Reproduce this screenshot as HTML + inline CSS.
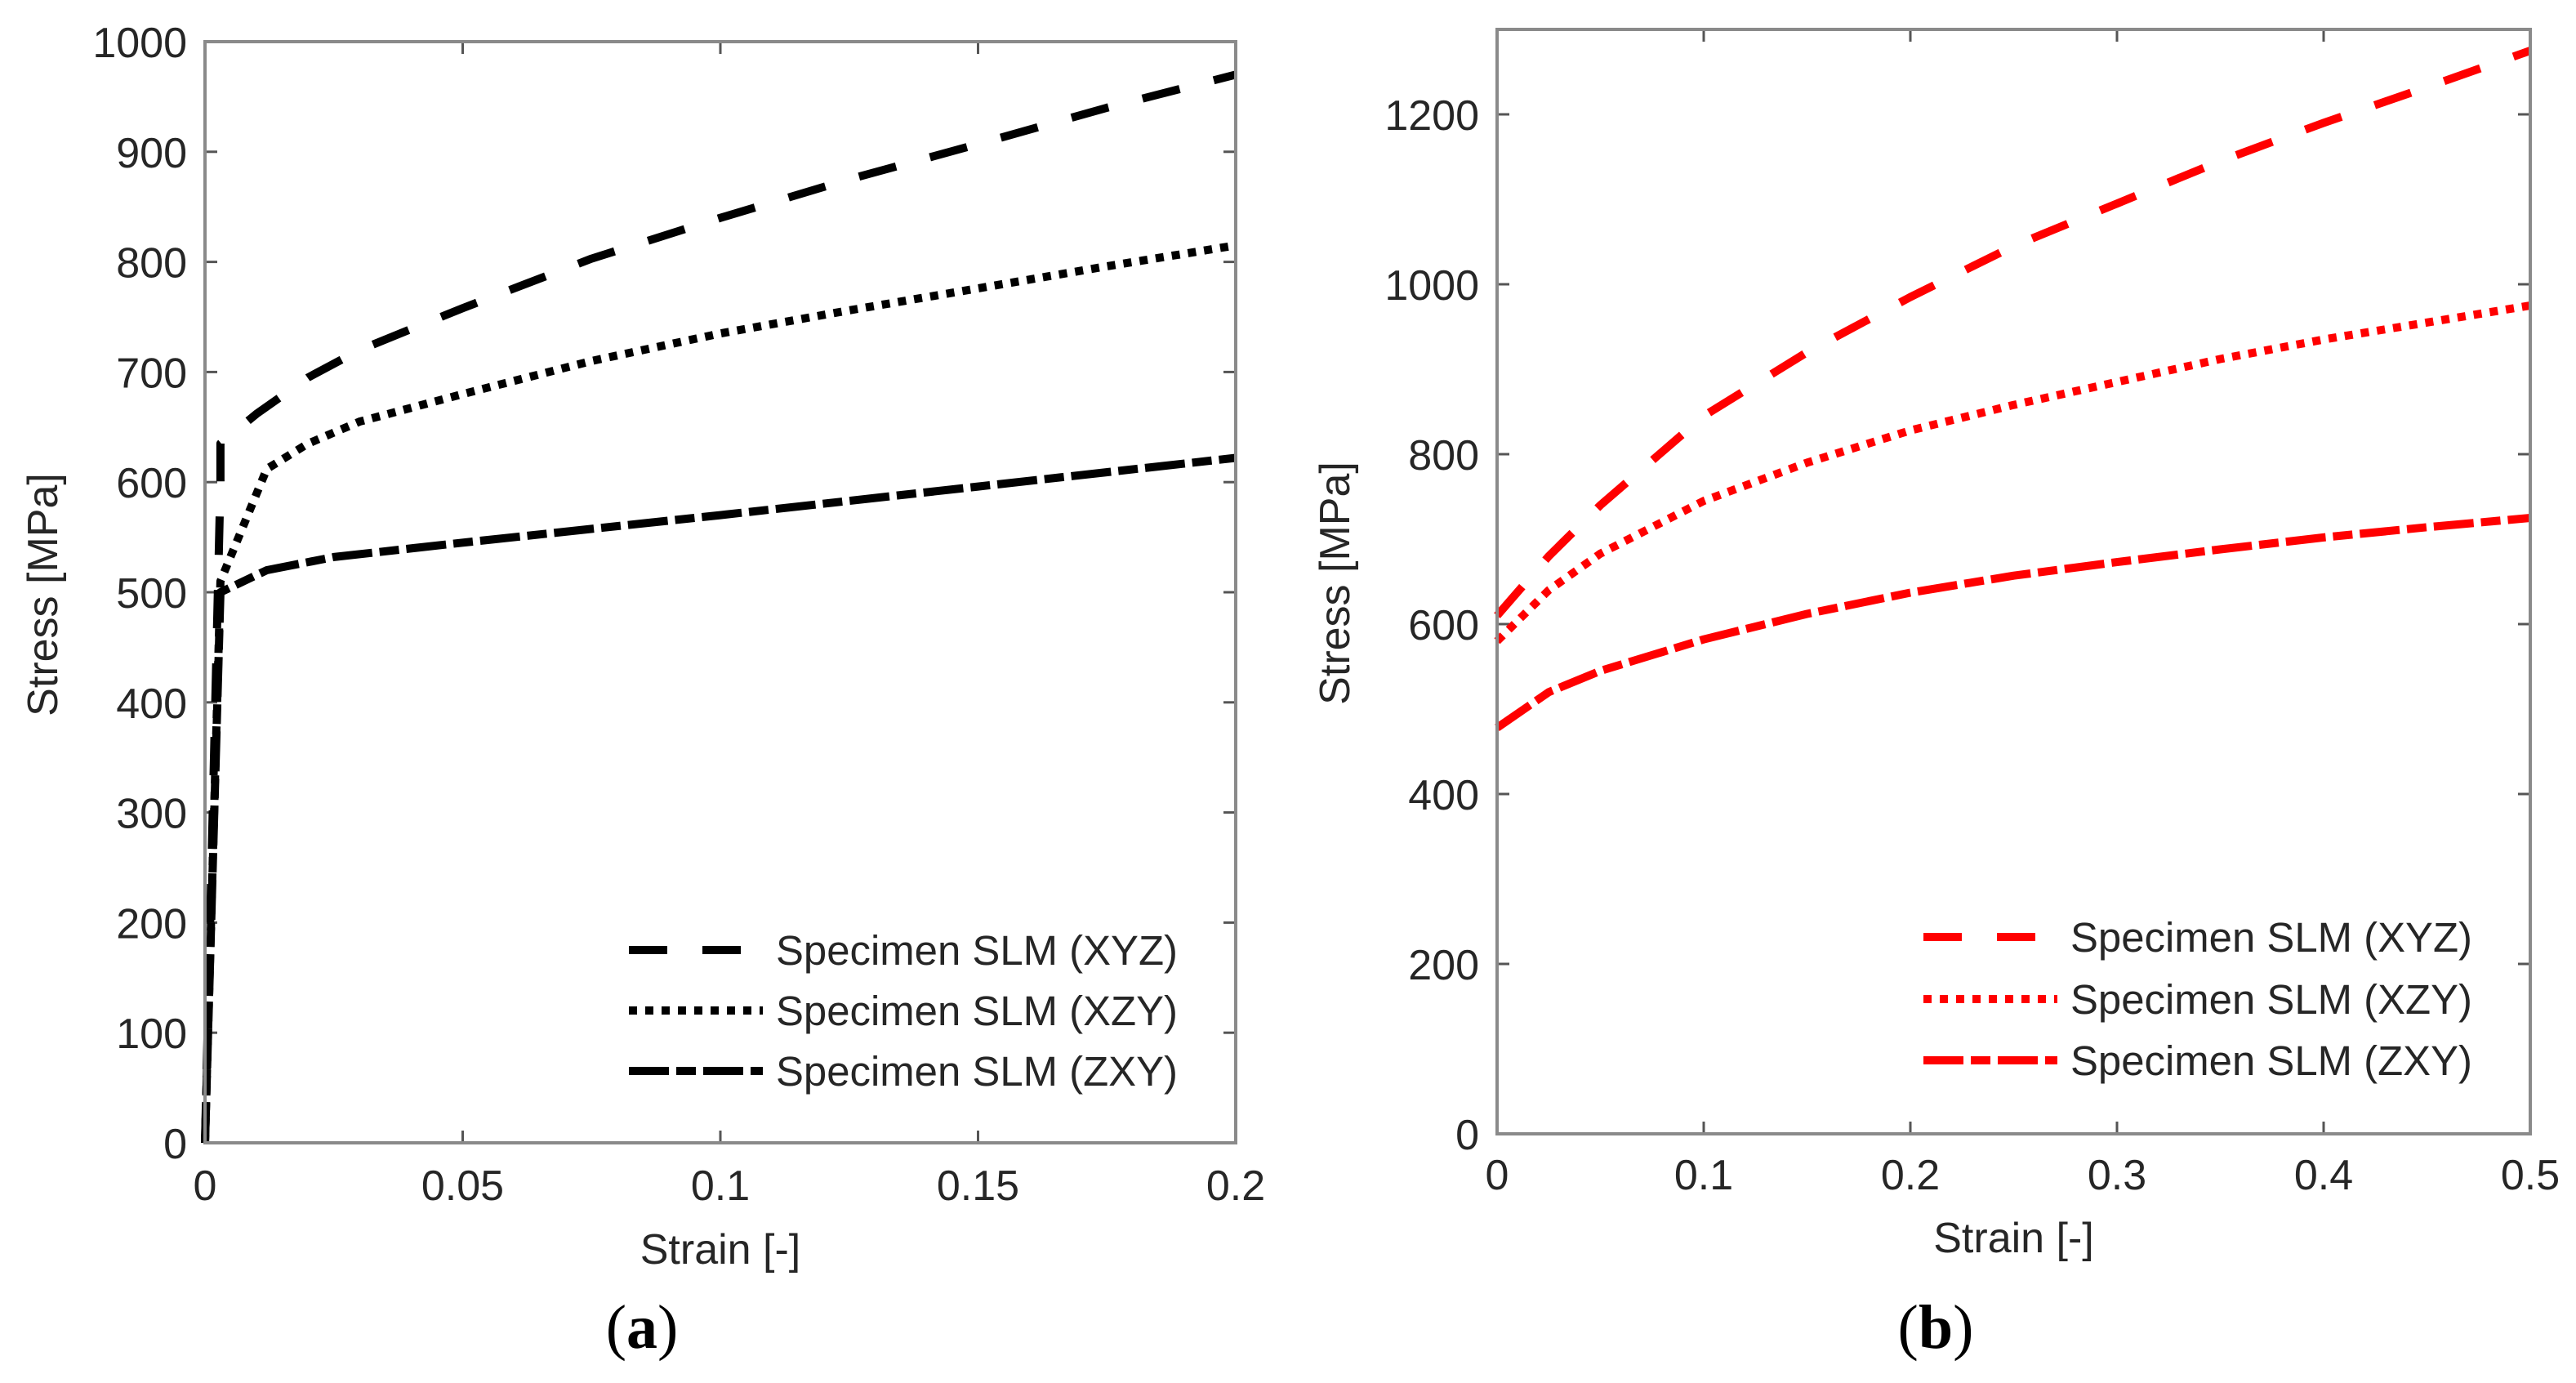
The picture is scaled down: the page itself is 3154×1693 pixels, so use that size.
<!DOCTYPE html>
<html><head><meta charset="utf-8">
<style>
html,body{margin:0;padding:0;background:#fff;}
svg{display:block;}
text{font-family:"Liberation Sans",sans-serif;fill:#262626;}
</style></head>
<body>
<svg id="fig" width="3154" height="1693" viewBox="0 0 3154 1693" xmlns="http://www.w3.org/2000/svg">
<g id="pa"></g>
<g id="pb"></g>
</svg>
<script>
// Panel (a) data
const aXTicks = [0, 0.05, 0.1, 0.15, 0.2];
const aXTickLabels = ["0", "0.05", "0.1", "0.15", "0.2"];
const aYTicks = [0,100,200,300,400,500,600,700,800,900,1000];
const aYTickLabels = ["0","100","200","300","400","500","600","700","800","900","1000"];
const aXYZx = [0, 0.003, 0.003, 0.01, 0.02, 0.03, 0.05, 0.075, 0.1, 0.125, 0.15, 0.175, 0.2];
const aXYZy = [0, 600, 635, 662, 695, 720, 758, 803, 840, 875, 907, 940, 970];
const aXZYx = [0, 0.003, 0.012, 0.02, 0.03, 0.05, 0.075, 0.1, 0.125, 0.15, 0.175, 0.2];
const aXZYy = [0, 510, 612, 635, 655, 680, 710, 735, 756, 776, 796, 815];
const aZXYx = [0, 0.003, 0.012, 0.025, 0.05, 0.1, 0.15, 0.2];
const aZXYy = [0, 500, 520, 532, 545, 570, 596, 622];
// Panel (b) data
const bXTicks = [0, 0.1, 0.2, 0.3, 0.4, 0.5];
const bXTickLabels = ["0", "0.1", "0.2", "0.3", "0.4", "0.5"];
const bYTicks = [0,200,400,600,800,1000,1200];
const bYTickLabels = ["0","200","400","600","800","1000","1200"];
const bStrain = [0, 0.025, 0.05, 0.1, 0.15, 0.2, 0.25, 0.3, 0.35, 0.4, 0.45, 0.5];
const bXYZ = [610, 680, 740, 845, 920, 985, 1045, 1095, 1145, 1190, 1232, 1275];
const bXZY = [580, 640, 683, 745, 790, 828, 858, 885, 912, 935, 955, 975];
const bZXY = [478, 520, 545, 582, 612, 637, 657, 673, 688, 702, 714, 725];
const legendLabels = ["Specimen SLM (XYZ)", "Specimen SLM (XZY)", "Specimen SLM (ZXY)"];

const NS = "http://www.w3.org/2000/svg";
function mk(tag, attrs, parent){const e=document.createElementNS(NS,tag);for(const k in attrs)e.setAttribute(k,attrs[k]);parent.appendChild(e);return e;}
const dashes = ["47,43", "10,10", "49,9,24,9"];

function panel(g, cfg){
  const sx = v => cfg.x0 + (v - cfg.xmin)/(cfg.xmax-cfg.xmin)*(cfg.x1-cfg.x0);
  const sy = v => cfg.y0 - (v - cfg.ymin)/(cfg.ymax-cfg.ymin)*(cfg.y0-cfg.y1);
  cfg.xt.forEach((t,i)=>{
    const x=sx(t);
    let l=mk('line',{x1:x,x2:x,y1:cfg.y0,y2:cfg.y0-15,stroke:'#555','stroke-width':3},g);
     
    l=mk('line',{x1:x,x2:x,y1:cfg.y1,y2:cfg.y1+15,stroke:'#555','stroke-width':3},g);
     
    const tx=mk('text',{x:x,y:cfg.y0+cfg.xlOff,'font-size':52,'text-anchor':'middle'},g);
    tx.textContent=cfg.xl[i];
     
  });
  cfg.yt.forEach((t,i)=>{
    const y=sy(t);
    let l=mk('line',{x1:cfg.x0,x2:cfg.x0+15,y1:y,y2:y,stroke:'#555','stroke-width':3},g);
     
    l=mk('line',{x1:cfg.x1,x2:cfg.x1-15,y1:y,y2:y,stroke:'#555','stroke-width':3},g);
     
    const tx=mk('text',{x:cfg.x0-22,y:y+19,'font-size':52,'text-anchor':'end'},g);
    tx.textContent=cfg.yl[i];
     
  });
  cfg.series.forEach((s,i)=>{
    const d=s.x.map((v,j)=>(j?'L':'M')+sx(v).toFixed(1)+','+sy(s.y[j]).toFixed(1)).join(' ');
    const p=mk('path',{d:d,fill:'none',stroke:cfg.color,'stroke-width':10,'stroke-dasharray':dashes[i],'stroke-linejoin':'round'},g);
    
    
  });
  const r=mk('rect',{x:cfg.x0,y:cfg.y1,width:cfg.x1-cfg.x0,height:cfg.y0-cfg.y1,fill:'none',stroke:'#8a8a8a','stroke-width':4},g);
   
  cfg.legY.forEach((ly,i)=>{
    const l=mk('line',{x1:cfg.legX,x2:cfg.legX+164,y1:ly,y2:ly,stroke:cfg.color,'stroke-width':10,'stroke-dasharray':dashes[i]},g);
     
    const t=mk('text',{x:cfg.legX+180,y:ly+18,'font-size':51,textLength:492,lengthAdjust:'spacingAndGlyphs'},g);
    t.textContent=legendLabels[i];
     
  });
  let t=mk('text',{x:(cfg.x0+cfg.x1)/2,y:cfg.y0+cfg.xtOff,'font-size':52,'text-anchor':'middle'},g);
  t.textContent='Strain [-]';
   
  t=mk('text',{x:0,y:0,'font-size':52,'text-anchor':'middle',transform:`translate(${cfg.ytx},${cfg.yty}) rotate(-90)`},g);
  t.textContent='Stress [MPa]';
   
  t=mk('text',{x:cfg.capX,y:1650,'font-size':76,'text-anchor':'middle',style:'font-family:"Liberation Serif",serif;fill:#000'},g);
  t.innerHTML='(<tspan font-weight="bold">'+cfg.cap+'</tspan>)';
   
}

panel(document.getElementById('pa'),{
  x0:251,x1:1513,y0:1399,y1:51,xmin:0,xmax:0.2,ymin:0,ymax:1000,
  xt:aXTicks,xl:aXTickLabels,yt:aYTicks,yl:aYTickLabels,color:'#000',
  series:[{name:'xyz',x:aXYZx,y:aXYZy},{name:'xzy',x:aXZYx,y:aXZYy},{name:'zxy',x:aZXYx,y:aZXYy}],
  legX:770,legY:[1163,1237,1311],ytx:70,yty:728,capX:786,cap:'a',xlOff:70,xtOff:148
});
panel(document.getElementById('pb'),{
  x0:1833,x1:3098,y0:1388,y1:36,xmin:0,xmax:0.5,ymin:0,ymax:1300,
  xt:bXTicks,xl:bXTickLabels,yt:bYTicks,yl:bYTickLabels,color:'#ff0000',
  series:[{name:'xyz',x:bStrain,y:bXYZ},{name:'xzy',x:bStrain,y:bXZY},{name:'zxy',x:bStrain,y:bZXY}],
  legX:2355,legY:[1147,1223,1298],ytx:1652,yty:714,capX:2370,cap:'b',xlOff:68,xtOff:145
});
</script>
</body></html>
